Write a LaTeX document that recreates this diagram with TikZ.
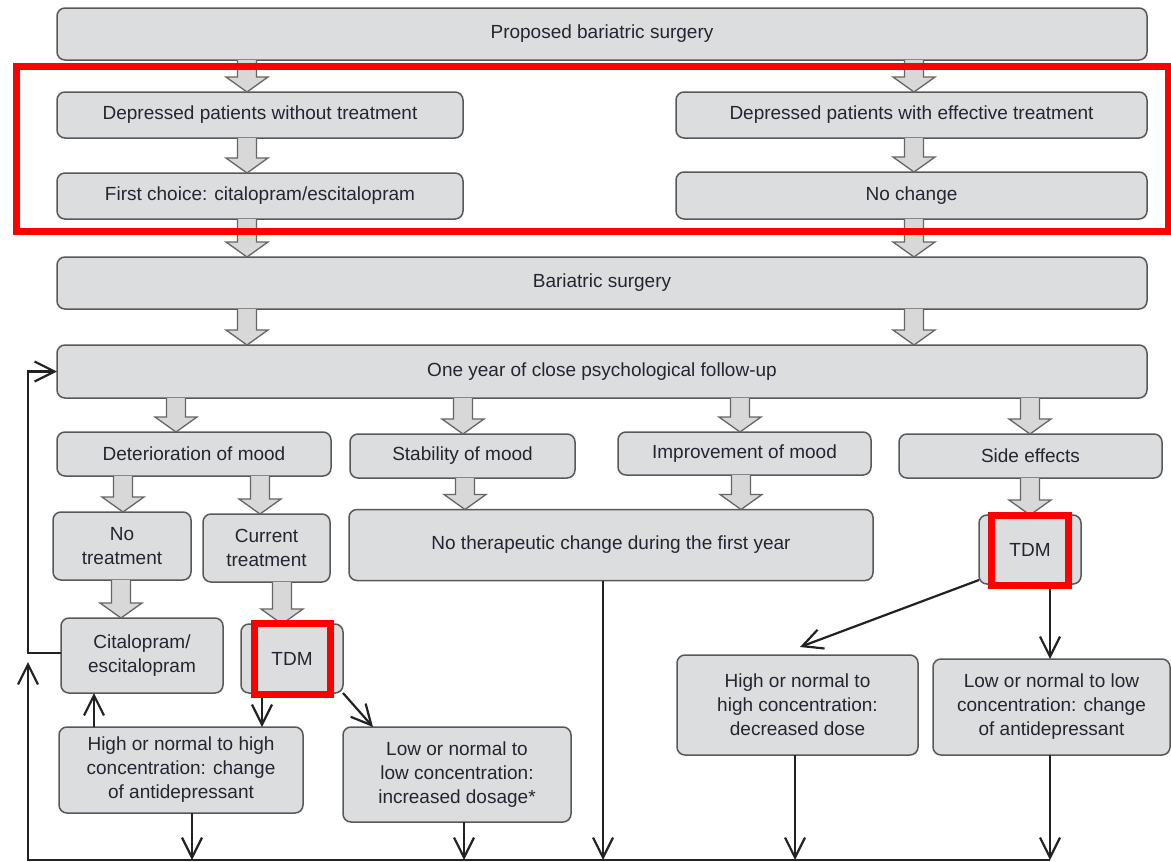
\documentclass[tikz,border=0pt]{standalone}
\usepackage{fontspec}
\setmainfont{Liberation Sans}
\usetikzlibrary{arrows.meta,calc}
\definecolor{boxfill}{HTML}{DCDDDF}
\definecolor{boxline}{HTML}{585858}
\definecolor{txt}{HTML}{25252F}
\definecolor{conncol}{HTML}{222222}
\definecolor{blkfillc}{HTML}{D8D8D8}
\definecolor{blklinec}{HTML}{666666}
\definecolor{redmark}{HTML}{FF0000}
\newcommand\blk[3]{%
  \fill[blkfillc] let \p1=(#2.south), \p2=(#3.north) in
    ({(#1-9.5)*1pt},\y1) -- ({(#1-9.5)*1pt},{\y2+15pt}) -- ({(#1-21)*1pt},{\y2+15pt}) -- ({#1*1pt},\y2)
    -- ({(#1+21)*1pt},{\y2+15pt}) -- ({(#1+9.5)*1pt},{\y2+15pt}) -- ({(#1+9.5)*1pt},\y1) -- cycle;
  \draw[blklinec,line width=1.3pt,line join=miter] let \p1=(#2.south), \p2=(#3.north) in
    ({(#1-9.5)*1pt},\y1) -- ({(#1-9.5)*1pt},{\y2+15pt}) -- ({(#1-21)*1pt},{\y2+15pt}) -- ({#1*1pt},\y2)
    -- ({(#1+21)*1pt},{\y2+15pt}) -- ({(#1+9.5)*1pt},{\y2+15pt}) -- ({(#1+9.5)*1pt},\y1);
}
\begin{document}
\begin{tikzpicture}[x=1pt,y=-1pt,
  box/.style={draw=boxline, fill=boxfill, line width=1.5pt, rounded corners=8pt, outer sep=0pt,
    inner sep=2pt, align=center, text=txt, font=\fontsize{19}{24}\selectfont},
  conn/.style={draw=conncol, line width=2.2pt, -{Straight Barb[length=20pt,width=20pt,line width=2.2pt]}},
  redbox/.style={draw=redmark, line width=7pt}]
\useasboundingbox (0,0) rectangle (1171,862);
\fill[white] (0,0) rectangle (1171,862);

% boxes
\node[box, minimum width=1090pt, minimum height=52pt] (prop) at (602,34) {Proposed bariatric surgery};
\node[box, minimum width=406pt, minimum height=46pt] (dwo) at (260,115) {Depressed patients without treatment};
\node[box, minimum width=471pt, minimum height=46pt] (dwe) at (911.5,115) {Depressed patients with effective treatment};
\node[box, minimum width=406pt, minimum height=46pt] (first) at (260,196) {First choice: citalopram/escitalopram};
\node[box, minimum width=471pt, minimum height=47pt] (noch) at (911.5,195.5) {No change};
\node[box, minimum width=1090pt, minimum height=52pt] (bar) at (602,283) {Bariatric surgery};
\node[box, minimum width=1090pt, minimum height=53pt] (fu) at (602,371.5) {One year of close psychological follow-up};
\node[box, minimum width=274pt, minimum height=44pt] (det) at (194,454) {Deterioration of mood};
\node[box, minimum width=225pt, minimum height=44pt] (stab) at (462.5,456) {Stability of mood};
\node[box, minimum width=253pt, minimum height=43pt] (imp) at (744.5,453.5) {Improvement of mood};
\node[box, minimum width=263pt, minimum height=44pt] (side) at (1030.5,456) {Side effects};
\node[box, minimum width=138pt, minimum height=68pt] (notr) at (122,546) {No\\treatment};
\node[box, minimum width=127pt, minimum height=68pt] (curr) at (266.5,548) {Current\\treatment};
\node[box, minimum width=524pt, minimum height=71pt] (nothc) at (611,545) {No therapeutic change during the first year};
\node[box, minimum width=102pt, minimum height=69pt] (tdmR) at (1030,549.5) {TDM};
\node[box, minimum width=162pt, minimum height=75pt] (cit) at (142,655.5) {Citalopram/\\escitalopram};
\node[box, minimum width=102pt, minimum height=69pt] (tdmL) at (292,658.5) {TDM};
\node[box, minimum width=244pt, minimum height=86pt] (hiL) at (181,770) {High or normal to high\\concentration: change\\of antidepressant};
\node[box, minimum width=228pt, minimum height=95pt] (loL) at (457,774.5) {Low or normal to\\low concentration:\\increased dosage*};
\node[box, minimum width=241pt, minimum height=100pt] (hiR) at (797.5,705) {High or normal to\\high concentration:\\decreased dose};
\node[box, minimum width=237pt, minimum height=96pt] (loR) at (1051.5,707) {Low or normal to low\\concentration: change\\of antidepressant};

% block arrows
\blk{247}{prop}{dwo}
\blk{914}{prop}{dwe}
\blk{247}{dwo}{first}
\blk{914}{dwe}{noch}
\blk{247}{first}{bar}
\blk{914}{noch}{bar}
\blk{247}{bar}{fu}
\blk{914}{bar}{fu}
\blk{176}{fu}{det}
\blk{463}{fu}{stab}
\blk{740}{fu}{imp}
\blk{1030}{fu}{side}
\blk{123}{det}{notr}
\blk{260}{det}{curr}
\blk{465}{stab}{nothc}
\blk{741}{imp}{nothc}
\blk{1030}{side}{tdmR}
\blk{121}{notr}{cit}
\blk{282}{curr}{tdmL}

% bus coordinates
\coordinate (busR) at (1050,860);
\coordinate (busL) at (28,860);
\coordinate (loopUp) at (28,662);

% thin connectors
\draw[conn] ([xshift=-30pt]tdmL.south) -- ([xshift=-30pt]tdmL.south |- hiL.north);
\draw[conn] ([xshift=33pt]cit.south west |- hiL.north) -- ([xshift=33pt]cit.south west);
\draw[conn] (tdmL.south east) -- ([xshift=30pt]loL.north west);
\draw[conn] ([yshift=4pt]tdmR.south west) -- ([xshift=2.5pt,yshift=8pt]hiR.north);
\draw[conn] ([xshift=20pt]tdmR.south) -- ([xshift=20pt]tdmR.south |- loR.north);

\draw[conn] ([xshift=11pt]hiL.south) -- ([xshift=11pt]hiL.south |- busR);
\draw[conn] ([xshift=7pt]loL.south) -- ([xshift=7pt]loL.south |- busR);
\draw[conn] ([xshift=-8pt]nothc.south) -- ([xshift=-8pt]nothc.south |- busR);
\draw[conn] ([xshift=-2.5pt]hiR.south) -- ([xshift=-2.5pt]hiR.south |- busR);
\draw[conn] ([xshift=-1.5pt]loR.south) -- ([xshift=-1.5pt]loR.south |- busR);

\draw[conn] (busR) -- (busL) -- (loopUp);
\draw[conn] ([yshift=2.5pt]cit.west) -- ([yshift=2.5pt]cit.west -| busL) |- (fu.west);

% red highlight marks
\draw[redbox] (16.5,66.5) rectangle (1168,231);
\draw[redbox] (254.5,623.5) rectangle (330.5,694.5);
\draw[redbox] (991.5,515.5) rectangle (1068.5,585.5);
\end{tikzpicture}
\end{document}
